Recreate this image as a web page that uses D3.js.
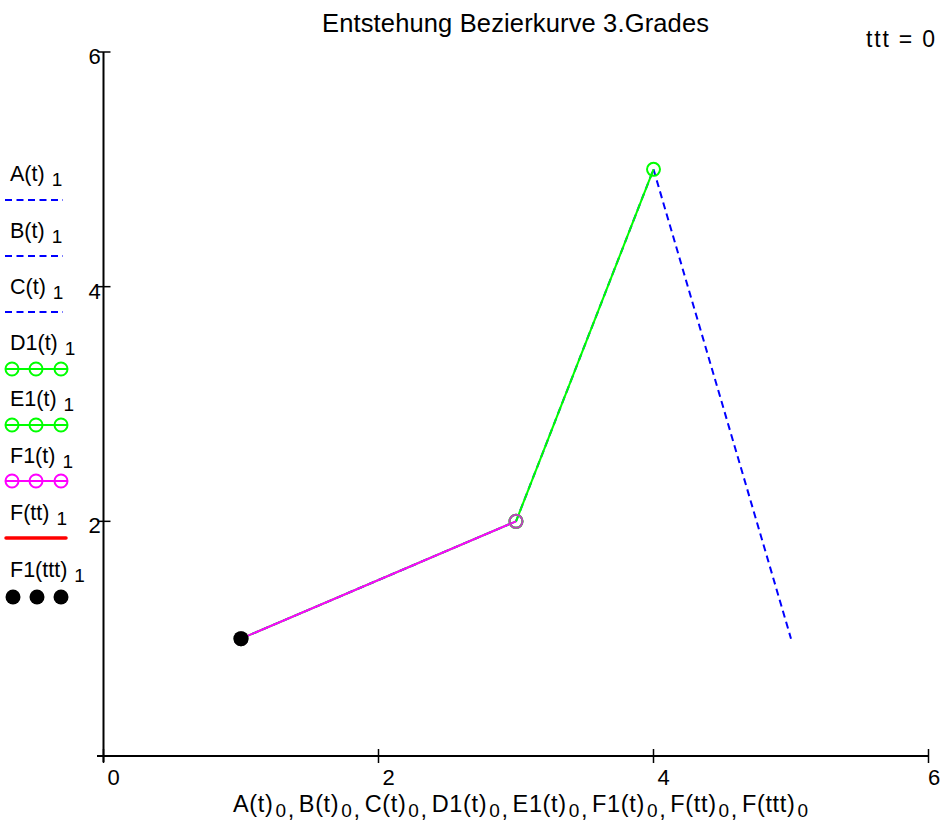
<!DOCTYPE html>
<html><head><meta charset="utf-8">
<script src="https://cdn.jsdelivr.net/npm/d3@7"></script>
<style>body{margin:0;background:#fff}svg{display:block}text{font-family:Arial,"Liberation Sans",sans-serif;fill:#000}</style>
</head><body><svg id="c" width="942" height="837"></svg>
<script>
// ---- data ----
const xTicks = [0, 2, 4, 6];
const yTicks = [2, 4, 6];
const titleText = "Entstehung Bezierkurve 3.Grades";
const tttText = "ttt = 0";
const seriesNames = ["A(t)", "B(t)", "C(t)", "D1(t)", "E1(t)", "F1(t)", "F(tt)", "F1(ttt)"];
const xAxisNames = ["A(t)","B(t)","C(t)","D1(t)","E1(t)","F1(t)","F(tt)","F(ttt)"];
// series points [x, y]
const A_pts  = [[1,1],[3,2]];
const B_pts  = [[3,2],[4,5]];
const C_pts  = [[4,5],[5,1]];
const D1_pts = [[1,1],[3,2]];
const E1_pts = [[3,2],[4,5]];
const F1_pts = [[1,1],[3,2]];
const Ftt_pts = [];
const F1ttt_pts = [[1,1]];

const svg = d3.select("#c");
const x = d3.scaleLinear().domain([0,6]).range([103.5, 928.5]);
const y = d3.scaleLinear().domain([0,6]).range([756, 52]);

// axes
const axisG = svg.append("g");
axisG.append("line").attr("x1",97).attr("x2",x(6)).attr("y1",y(0)).attr("y2",y(0)).attr("stroke","#000").attr("stroke-width",2);
axisG.append("line").attr("x1",x(0)).attr("x2",x(0)).attr("y1",y(6)).attr("y2",762).attr("stroke","#000").attr("stroke-width",2);
xTicks.forEach(v=>{
  axisG.append("line").attr("x1",x(v)).attr("x2",x(v)).attr("y1",y(0)-7).attr("y2",y(0)+7).attr("stroke","#000").attr("stroke-width",1.5);
  axisG.append("text").attr("x",Math.min(x(v)+10,934)).attr("y",785).attr("text-anchor","middle").attr("font-size",22).text(v);
});
yTicks.forEach(v=>{
  axisG.append("line").attr("x1",x(0)-6).attr("x2",x(0)+7).attr("y1",y(v)).attr("y2",y(v)).attr("stroke","#000").attr("stroke-width",1.5);
  axisG.append("text").attr("x",x(0)-9).attr("y",y(v)+12).attr("text-anchor","middle").attr("font-size",22).text(v);
});

const line = d3.line().x(d=>x(d[0])).y(d=>y(d[1]));
function drawLine(pts, color, dash, w){
  if(pts.length<2) return;
  svg.append("path").datum(pts).attr("d",line).attr("fill","none").attr("stroke",color).attr("stroke-width",w||2)
    .attr("stroke-dasharray",dash||null);
}
function drawCircles(pts, color){
  svg.append("g").selectAll("circle").data(pts).join("circle")
    .attr("cx",d=>x(d[0])).attr("cy",d=>y(d[1])).attr("r",6.5).attr("fill","none").attr("stroke",color).attr("stroke-width",2);
}
drawLine(A_pts,"#0000ff","7,4.5");
drawLine(B_pts,"#0000ff","7,4.5");
drawLine(C_pts,"#0000ff","7,4.5");
drawLine(D1_pts,"#00ff00"); drawCircles(D1_pts,"#00ff00");
drawLine(E1_pts,"#00ff00"); drawCircles(E1_pts,"#00ff00");
drawLine(F1_pts,"#ff00ff"); drawCircles(F1_pts,"#c040c0");
drawLine(Ftt_pts,"#ff0000",null,3.5);
svg.append("g").selectAll("circle").data(F1ttt_pts).join("circle")
  .attr("cx",d=>x(d[0])).attr("cy",d=>y(d[1])).attr("r",7.5).attr("fill","#000");

// title
svg.append("text").attr("x",322).attr("y",32).attr("font-size",25.5)
  .attr("textLength",387).attr("lengthAdjust","spacing").text(titleText);
svg.append("text").attr("x",866).attr("y",47).attr("font-size",23)
  .attr("textLength",69).attr("lengthAdjust","spacing").text(tttText);

// legend
const legY = [181, 238, 294, 350, 406, 463, 520, 577];
const legStyle = [
 {t:"dash",c:"#0000ff"},{t:"dash",c:"#0000ff"},{t:"dash",c:"#0000ff"},
 {t:"circ",c:"#00ff00"},{t:"circ",c:"#00ff00"},{t:"circ",c:"#ff00ff"},
 {t:"solid",c:"#ff0000"},{t:"dot",c:"#000"}];
const legLineY = [200, 256, 312, 369, 425, 481, 538, 597];
seriesNames.forEach((n,i)=>{
  const t = svg.append("text").attr("x",10).attr("y",legY[i]).attr("font-size",21.5);
  t.append("tspan").text(n);
  t.append("tspan").attr("dx",7).attr("dy",5).attr("font-size",19).text("1");
  const ly = legLineY[i];
  const s = legStyle[i];
  if(s.t==="dash"){
    svg.append("line").attr("x1",5).attr("x2",63).attr("y1",ly).attr("y2",ly).attr("stroke",s.c).attr("stroke-width",2).attr("stroke-dasharray","7,4.5");
  } else if(s.t==="circ"){
    svg.append("line").attr("x1",5).attr("x2",68).attr("y1",ly).attr("y2",ly).attr("stroke",s.c).attr("stroke-width",2);
    [12,36,61].forEach(cx=>svg.append("circle").attr("cx",cx).attr("cy",ly).attr("r",6.5).attr("fill","none").attr("stroke",s.c).attr("stroke-width",2));
  } else if(s.t==="solid"){
    svg.append("line").attr("x1",6).attr("x2",66).attr("y1",ly).attr("y2",ly).attr("stroke",s.c).attr("stroke-width",3.5).attr("stroke-linecap","round");
  } else {
    [13,37,61].forEach(cx=>svg.append("circle").attr("cx",cx).attr("cy",ly).attr("r",7.5).attr("fill",s.c));
  }
});

// x axis label
const xl = svg.append("text").attr("x",233).attr("y",812).attr("font-size",23.5)
  .attr("textLength",575).attr("lengthAdjust","spacing");
xAxisNames.forEach((n,i)=>{
  xl.append("tspan").attr("dy", i===0?0:-5).attr("dx", i===0?0:4).text(n);
  xl.append("tspan").attr("dy",5).attr("dx",2).attr("font-size",19).text("0");
  if(i<xAxisNames.length-1) xl.append("tspan").attr("dx",1).text(",");
});
</script></body></html>
